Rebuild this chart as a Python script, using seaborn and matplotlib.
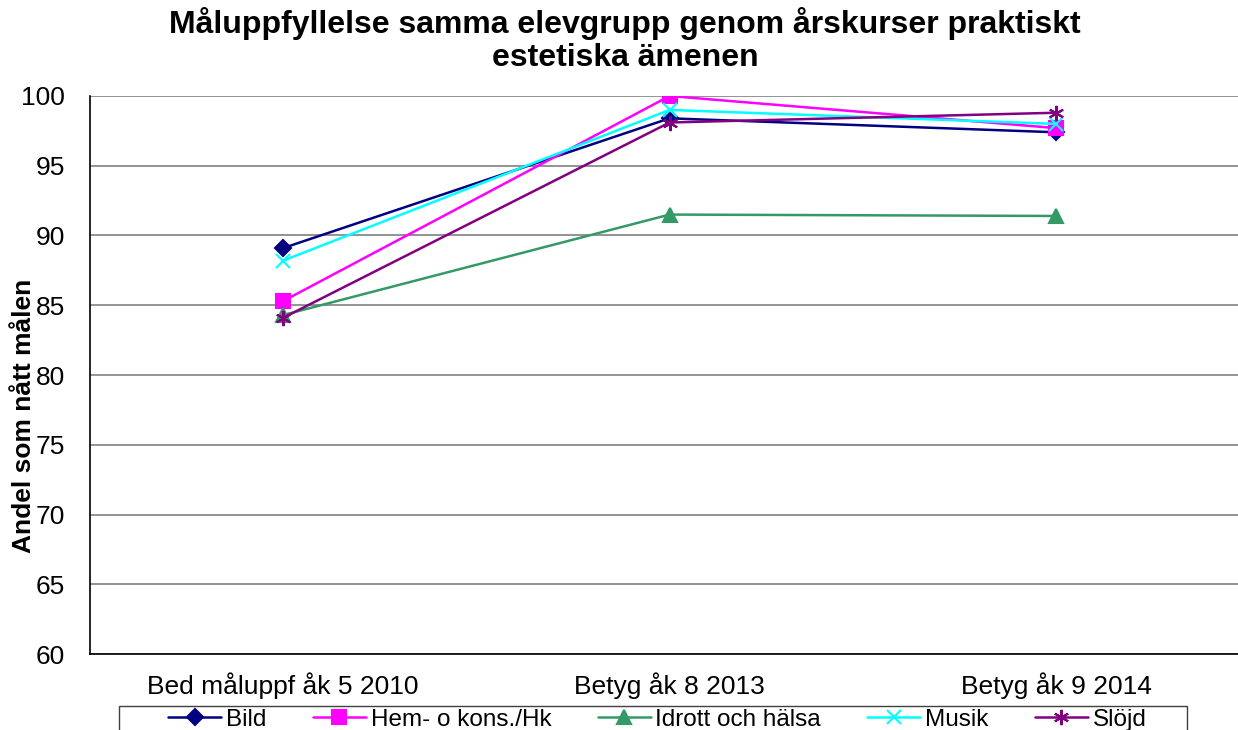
import matplotlib
matplotlib.use("Agg")
import matplotlib.pyplot as plt
import seaborn as sns
import pandas as pd
from matplotlib.patches import Rectangle

# Data
categories = ["Bed måluppf åk 5 2010", "Betyg åk 8 2013", "Betyg åk 9 2014"]
subjects = ["Bild", "Hem- o kons./Hk", "Idrott och hälsa", "Musik", "Slöjd"]
bild = [89.1, 98.4, 97.4]
hem = [85.3, 100.0, 97.7]
idrott = [84.3, 91.5, 91.4]
musik = [88.2, 99.0, 98.0]
slojd = [84.1, 98.1, 98.8]

values = [bild, hem, idrott, musik, slojd]
colors = ["#000080", "#FF00FF", "#339966", "#00FFFF", "#800080"]
markers = ["D", "s", "^", "x", (6, 2, 0)]
msizes = [8.5, 9.5, 10.5, 10, 11]

sns.set_style("white")
plt.rcParams["font.family"] = ["Liberation Sans", "DejaVu Sans"]
plt.rcParams["text.color"] = "black"
plt.rcParams["xtick.color"] = "black"
plt.rcParams["ytick.color"] = "black"
plt.rcParams["axes.labelcolor"] = "black"

fig = plt.figure(figsize=(12.38, 7.30), dpi=100)
ax = fig.add_axes([0.0727, 0.1041, 0.9363, 0.7644])

# One lineplot call per subject, since filled and line markers are mixed
for subj, vals, col, mk, ms in zip(subjects, values, colors, markers, msizes):
    df = pd.DataFrame({"Kategori": range(len(vals)), "Andel": vals})
    sns.lineplot(data=df, x="Kategori", y="Andel", color=col, marker=mk,
                 markersize=ms, markeredgewidth=1.5, markeredgecolor=col,
                 linewidth=1.8, label=subj, ax=ax)

ax.set_xlim(-0.5, 2.5)
ax.set_ylim(60, 100)
ax.set_yticks(range(60, 101, 5))
ax.yaxis.grid(True, color="#808080", linewidth=1.2)
ax.set_axisbelow(True)

ax.set_xticks([0, 1, 2])
ax.set_xticklabels(categories)
ax.set_xticks([-0.5, 0.5, 1.5], minor=True)
ax.tick_params(axis="x", which="major", length=0, pad=13, labelsize=19)
ax.tick_params(axis="x", which="minor", length=6, width=1, color="black", direction="out")
ax.tick_params(axis="y", length=6, width=1, color="black", direction="out", labelsize=19, pad=12)

for side in ["top", "right"]:
    ax.spines[side].set_visible(False)
ax.spines["left"].set_color("black")
ax.spines["bottom"].set_color("black")
ax.spines["left"].set_linewidth(1.2)
ax.spines["bottom"].set_linewidth(1.2)

ax.set_xlabel("")
ax.set_ylabel("Andel som nått målen", fontsize=19, fontweight="bold")
ax.yaxis.set_label_coords(-0.047, 0.427)

fig.suptitle("Måluppfyllelse samma elevgrupp genom årskurser praktiskt\nestetiska ämenen",
             fontsize=23, fontweight="bold", x=0.505, y=0.99, linespacing=1.1)

handles, labels = ax.get_legend_handles_labels()
ax.get_legend().remove()
leg = fig.legend(handles, labels, loc="center", bbox_to_anchor=(0.531, 0.0137),
                 ncol=5, frameon=False, fontsize=17.5, handlelength=2.18,
                 handletextpad=0.2, columnspacing=1.9, borderpad=0, borderaxespad=0)

# legend box (cut off at the bottom edge like the original)
fig.patches.append(Rectangle((119 / 1238, -0.02), (1187 - 119) / 1238, 0.02 + 24 / 730,
                             transform=fig.transFigure, fill=False,
                             edgecolor="#404040", linewidth=1.0))

fig.savefig("out.png", dpi=100)
